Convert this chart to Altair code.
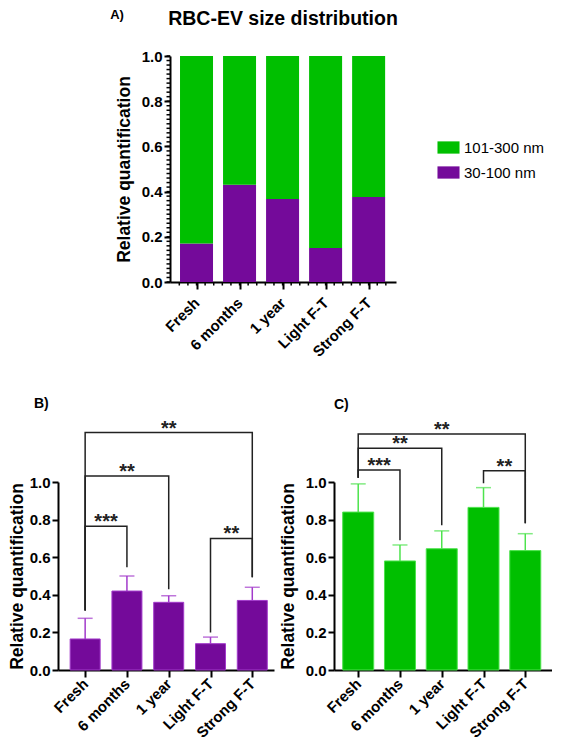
import json
import altair as alt
import numpy as np
import pandas as pd

# ---------------- data ----------------
categories = ["Fresh", "6 months", "1 year", "Light F-T", "Strong F-T"]
idx = [0, 1, 2, 3, 4]

# Panel A: fraction of 30-100 nm EVs (rest is 101-300 nm)
a_small = [0.17, 0.43, 0.367, 0.15, 0.376]

# Panel B: 30-100 nm (mean, top of error bar)
b_mean = [0.165, 0.42, 0.36, 0.14, 0.37]
b_err = [0.275, 0.50, 0.395, 0.175, 0.44]

# Panel C: 101-300 nm (mean, top of error bar)
c_mean = [0.84, 0.58, 0.645, 0.865, 0.635]
c_err = [0.99, 0.665, 0.74, 0.97, 0.725]

# significance brackets
b_from = [0, 0, 0, 3]
b_to = [1, 2, 4, 4]
b_line = [0.765, 1.032, 1.263, 0.70]
b_left = [0.316, 0.316, 0.316, 0.20]
b_right = [0.547, 0.43, 0.494, 0.494]
b_stars = ["***", "**", "**", "**"]

c_from = [0, 0, 0, 3]
c_to = [1, 2, 4, 4]
c_line = [1.064, 1.179, 1.255, 1.06]
c_left = [1.023, 1.023, 1.023, 0.993]
c_right = [0.69, 0.77, 0.78, 0.78]
c_stars = ["***", "**", "**", "**"]

# ---------------- style ----------------
PURPLE = "#740A9A"
PURPLE_L = "#A23ACB"
GREEN = "#00BF00"
GREEN_L = "#4DE34D"
FONT = "Liberation Sans"
label_expr = json.dumps(categories) + "[round(datum.value)]"


def x_axis(pad):
    return alt.Axis(values=idx, labelExpr=label_expr, labelAngle=-45,
                    labelAlign="right", labelBaseline="middle",
                    labelFontSize=15, labelFontWeight="bold", labelFont=FONT,
                    labelColor="black", labelPadding=pad, labelOverlap=False,
                    labelFlush=False, title=None,
                    domainColor="black", domainWidth=2, tickColor="black",
                    tickWidth=2, tickSize=7, grid=False)


def y_axis(title_pad):
    return alt.Axis(values=[0, 0.2, 0.4, 0.6, 0.8, 1.0], format=".1f",
                    labelFontSize=15, labelFontWeight="bold", labelFont=FONT,
                    labelColor="black", labelPadding=2, labelOverlap=False,
                    labelFlush=False,
                    title="Relative quantification", titleFontSize=17.5,
                    titleFontWeight="bold", titleFont=FONT, titleColor="black",
                    titlePadding=title_pad,
                    domainColor="black", domainWidth=2, tickColor="black",
                    tickWidth=2, tickSize=6, grid=False)


# ---------------- panel A ----------------
dfa = pd.DataFrame({
    "idx": idx * 2,
    "size": ["30-100 nm"] * 5 + ["101-300 nm"] * 5,
    "value": a_small + [1 - v for v in a_small],
    "ord": [0] * 5 + [1] * 5,
})
xa = alt.Scale(domain=[-0.5, 4.52], nice=False, zero=False)
ya = alt.Scale(domain=[0, 1], nice=False)
HA = 226
xax_a = x_axis(11)
yax_a = y_axis(8)

bars_a = alt.Chart(dfa).mark_bar(orient="vertical", size=33).encode(
    x=alt.X("idx:Q", scale=xa, axis=xax_a),
    y=alt.Y("value:Q", stack=True, scale=ya, axis=yax_a),
    order=alt.Order("ord:Q"),
    color=alt.Color("size:N",
                    scale=alt.Scale(domain=["101-300 nm", "30-100 nm"],
                                    range=[GREEN, PURPLE]),
                    legend=alt.Legend(title=None, orient="none", legendX=271,
                                      legendY=84, padding=0, labelFontSize=15,
                                      labelFont=FONT, labelColor="black",
                                      symbolType="M-1.8,-1H1.8V1H-1.8Z",
                                      symbolSize=150, symbolStrokeWidth=0,
                                      rowPadding=9, labelOffset=8)),
)

minor_y = pd.DataFrame({"v": np.round(np.arange(0, 1.0001, 0.02), 2)})
ticks_ya = alt.Chart(minor_y).mark_rule(color="black", strokeWidth=1.5).encode(
    y=alt.Y("v:Q", scale=ya, axis=yax_a), x=alt.value(0), x2=alt.value(-3.5))
minor_x = pd.DataFrame({"v": np.round(np.arange(-0.4, 4.52, 0.2), 2)})
ticks_xa = alt.Chart(minor_x).mark_rule(color="black", strokeWidth=1.5).encode(
    x=alt.X("v:Q", scale=xa, axis=xax_a), y=alt.value(HA),
    y2=alt.value(HA + 3.5))

chart_a = alt.layer(bars_a, ticks_ya, ticks_xa).properties(
    width=226, height=HA,
    title=alt.TitleParams("RBC-EV size distribution", fontSize=19.5,
                          fontWeight="bold", font=FONT, color="black",
                          anchor="middle", offset=20),
)

spacer = alt.Chart(pd.DataFrame({"v": [0]})).mark_point(opacity=0).properties(
    width=57, height=10)


# ---------------- panels B & C ----------------
def bracket_df(f, t, line, left, right):
    rows = []
    for k in range(len(f)):
        rows += [
            {"b": k, "o": 0, "x": f[k], "y": left[k]},
            {"b": k, "o": 1, "x": f[k], "y": line[k]},
            {"b": k, "o": 2, "x": t[k], "y": line[k]},
            {"b": k, "o": 3, "x": t[k], "y": right[k]},
        ]
    return pd.DataFrame(rows)


def panel(mean, err, color, color_l, f, t, line, left, right, stars,
          xdom, width, letter, dx, title_pad, bar_w):
    df = pd.DataFrame({"idx": idx, "mean": mean, "err": err})
    xs = alt.Scale(domain=xdom, nice=False, zero=False)
    ys = alt.Scale(domain=[0, 1], nice=False)
    xax = x_axis(4)
    yax = y_axis(title_pad)

    def X(field):
        return alt.X(field, scale=xs, axis=xax)

    def Y(field):
        return alt.Y(field, scale=ys, axis=yax)

    bars = alt.Chart(df).mark_bar(orient="vertical", size=bar_w, color=color,
                                  stroke=color_l, strokeWidth=1).encode(
        x=X("idx:Q"), y=Y("mean:Q"))
    ebar = alt.Chart(df).mark_rule(color=color_l, strokeWidth=1.5).encode(
        x=X("idx:Q"), y=Y("mean:Q"), y2="err:Q")
    cap = alt.Chart(df).mark_tick(orient="horizontal", size=15, thickness=1.5,
                                  color=color_l).encode(x=X("idx:Q"),
                                                        y=Y("err:Q"))
    br = alt.Chart(bracket_df(f, t, line, left, right)).mark_line(
        color="#222222", strokeWidth=1.5).encode(
        x=X("x:Q"), y=Y("y:Q"), detail="b:N", order="o:Q")
    sdf = pd.DataFrame({"x": [(a + b) / 2 for a, b in zip(f, t)],
                        "y": line, "s": stars})
    st = alt.Chart(sdf).mark_text(fontSize=20, fontWeight="bold", font=FONT,
                                  color="#222222", baseline="alphabetic",
                                  dy=2).encode(x=X("x:Q"), y=Y("y:Q"),
                                               text="s:N")
    return alt.layer(bars, ebar, cap, br, st).properties(
        width=width, height=188,
        title=alt.TitleParams(letter, fontSize=14, fontWeight="bold",
                              font=FONT, color="black", anchor="start",
                              frame="group", dx=dx, offset=8),
    )


chart_b = panel(b_mean, b_err, PURPLE, PURPLE_L, b_from, b_to, b_line, b_left,
                b_right, b_stars, [-0.53, 4.4], 216, "B)", -24, 3, 30)
chart_c = panel(c_mean, c_err, GREEN, GREEN_L, c_from, c_to, c_line, c_left,
                c_right, c_stars, [-0.46, 4.52], 218, "C)", 0, 8, 31)

top = alt.hconcat(spacer, chart_a, spacing=0).resolve_legend(
    color="independent")
bottom = alt.hconcat(chart_b, chart_c, spacing=5)

chart = alt.vconcat(top, bottom, spacing=36).resolve_legend(
    color="independent").properties(
    padding=0,
    title=alt.TitleParams("A)", fontSize=13, fontWeight="bold", font=FONT,
                          color="black", anchor="start", frame="bounds",
                          dx=102, offset=-13),
).configure_view(stroke=None)

chart.save("out.html", embed_options={"renderer": "svg", "actions": False})
